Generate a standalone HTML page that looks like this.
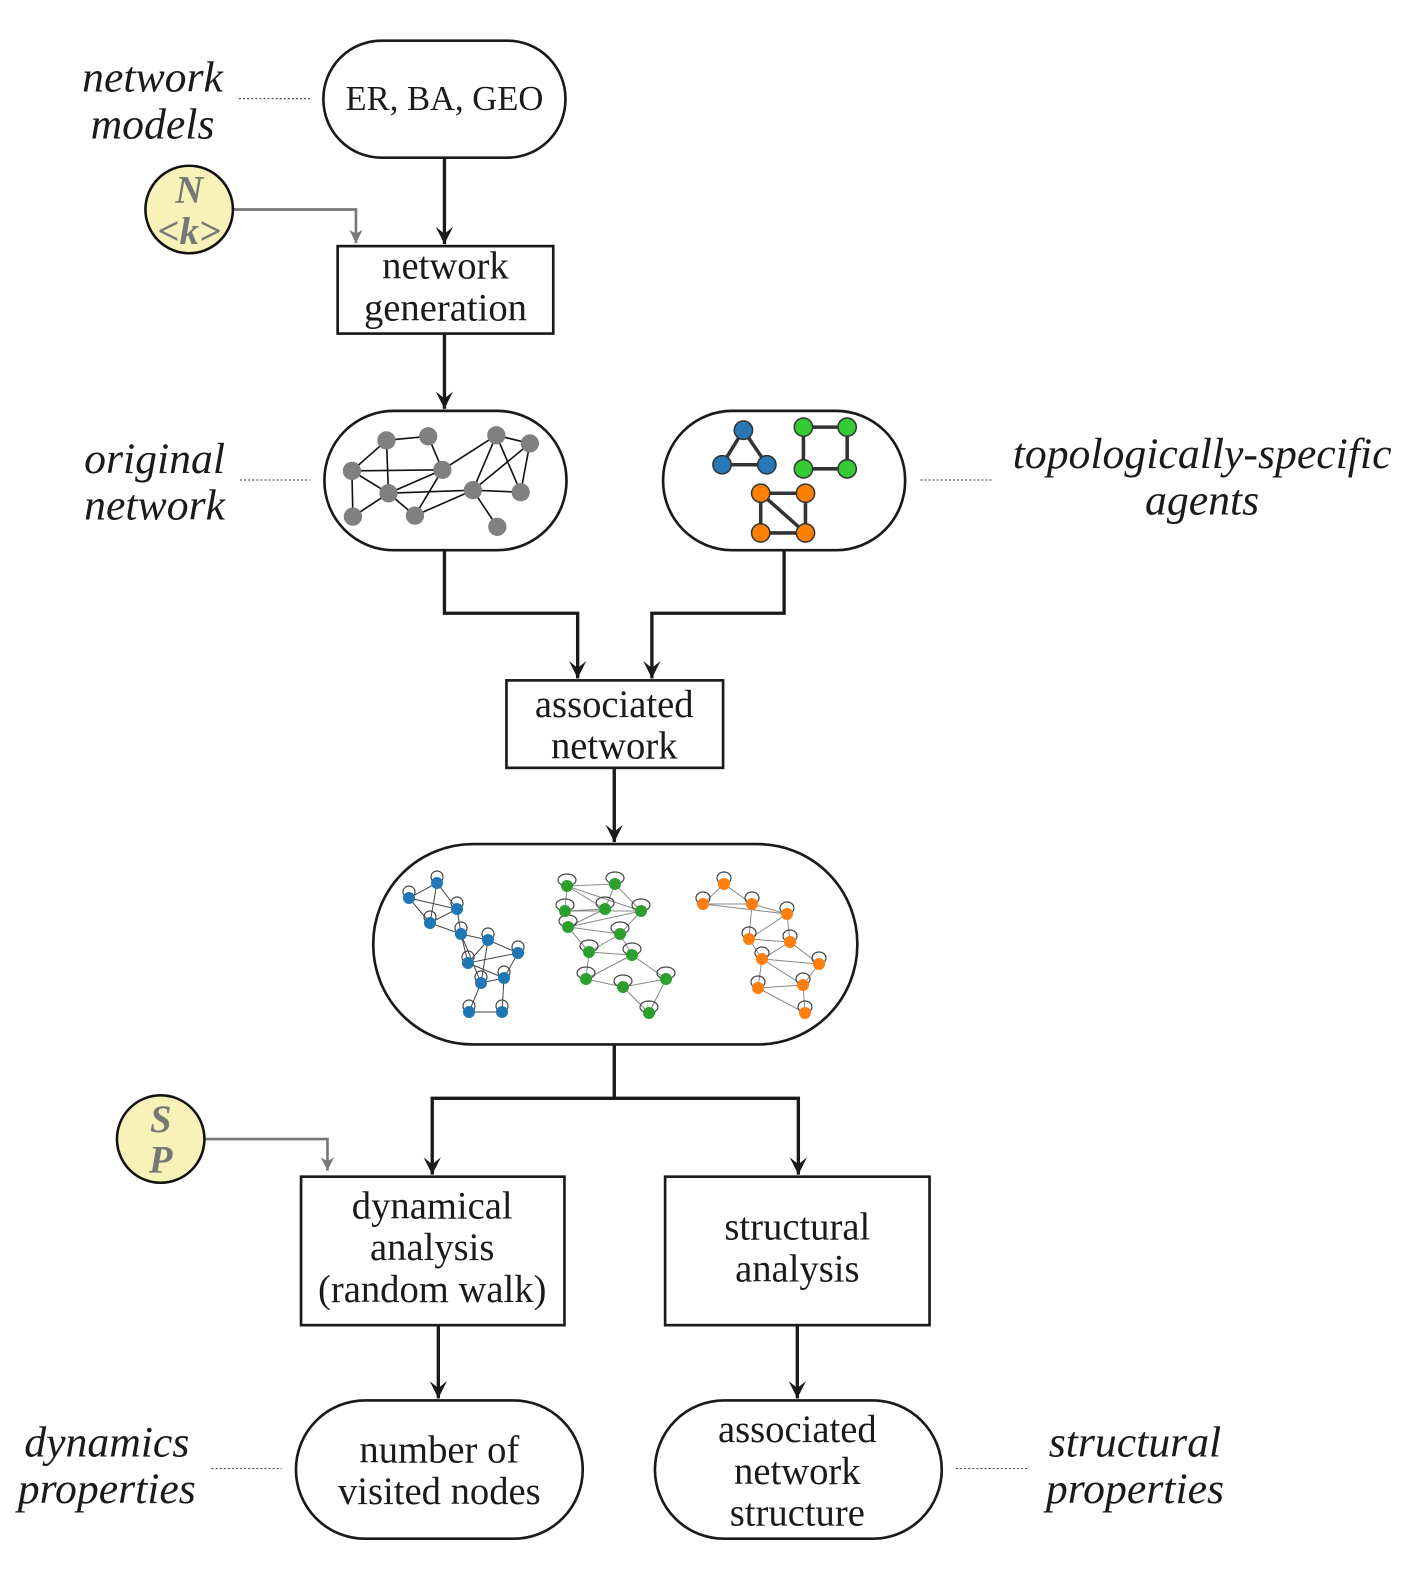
<!DOCTYPE html>
<html><head><meta charset="utf-8"><style>
html,body{margin:0;padding:0;background:#fff}
svg{display:block}
text{font-family:"Liberation Serif",serif;fill:#1a1a1a}
.lab{font-style:italic;font-size:43px}
.bx{font-size:38px}
</style></head><body>
<svg width="1412" height="1594" viewBox="0 0 1412 1594" xmlns="http://www.w3.org/2000/svg">
<defs>
<marker id="bh" viewBox="0 0 10 10" refX="10" refY="5" markerWidth="17" markerHeight="32" markerUnits="userSpaceOnUse" orient="auto"><path d="M0,0 L10,5 L0,10 L4,5 z" fill="#1a1a1a"/></marker>
<marker id="gh" viewBox="0 0 10 10" refX="10" refY="5" markerWidth="13" markerHeight="19" markerUnits="userSpaceOnUse" orient="auto"><path d="M0,0 L10,5 L0,10 L3,5 z" fill="#777"/></marker>
</defs>
<g transform="scale(1.017)">
<g fill="none" stroke="#1a1a1a" stroke-width="2.6">
<rect x="318" y="40" width="238" height="115" rx="57"/>
<rect x="332" y="242" width="212" height="86"/>
<rect x="319" y="404" width="238" height="137" rx="68"/>
<rect x="652" y="404" width="238" height="137" rx="68"/>
<rect x="498" y="669" width="213" height="86"/>
<rect x="367" y="830" width="476" height="197" rx="98"/>
<rect x="296" y="1157" width="259" height="146"/>
<rect x="654" y="1157" width="260" height="146"/>
<rect x="291" y="1377" width="282" height="136" rx="68"/>
<rect x="644" y="1377" width="282" height="136" rx="68"/>
</g>
<g fill="none" stroke="#1a1a1a" stroke-width="3.3">
<path d="M437 155 V240" marker-end="url(#bh)"/>
<path d="M437 328 V402" marker-end="url(#bh)"/>
<path d="M437 541 V603 H568 V667" marker-end="url(#bh)"/>
<path d="M771 541 V603 H641 V667" marker-end="url(#bh)"/>
<path d="M604 755 V828" marker-end="url(#bh)"/>
<path d="M604 1027 V1080 H425 V1155" marker-end="url(#bh)"/>
<path d="M604 1080 H785 V1155" marker-end="url(#bh)"/>
<path d="M431 1303 V1375" marker-end="url(#bh)"/>
<path d="M784 1303 V1375" marker-end="url(#bh)"/>
</g>
<g fill="none" stroke="#777" stroke-width="2.6">
<path d="M229 206 H350 V239" marker-end="url(#gh)"/>
<path d="M201 1120 H322 V1151" marker-end="url(#gh)"/>
</g>
<g stroke="#555" stroke-width="1.2" stroke-dasharray="2,2">
<line x1="235" y1="97" x2="305" y2="97"/><line x1="236" y1="472" x2="305" y2="472"/>
<line x1="905" y1="472" x2="975" y2="472"/><line x1="208" y1="1444" x2="277" y2="1444"/>
<line x1="940" y1="1444" x2="1010" y2="1444"/>
</g>
<circle cx="186" cy="206" r="43" fill="#f8f1b8" stroke="#111" stroke-width="2.5"/>
<circle cx="158" cy="1120" r="43" fill="#f8f1b8" stroke="#111" stroke-width="2.5"/>
<g font-style="italic" font-weight="bold" font-size="38" text-anchor="middle">
<text x="186" y="199" style="fill:#777">N</text><text x="186" y="240" style="fill:#777">&lt;k&gt;</text>
<text x="158" y="1113" style="fill:#777">S</text><text x="158" y="1153" style="fill:#777">P</text>
</g>
<g class="bx" text-anchor="middle">
<text x="437" y="108" font-size="34">ER, BA, GEO</text>
<text x="438" y="274">network</text><text x="438" y="315">generation</text>
<text x="604" y="705">associated</text><text x="604" y="746">network</text>
<text x="425" y="1198">dynamical</text><text x="425" y="1239">analysis</text><text x="425" y="1280">(random walk)</text>
<text x="784" y="1219">structural</text><text x="784" y="1260">analysis</text>
<text x="432" y="1438">number of</text><text x="432" y="1479">visited nodes</text>
<text x="784" y="1418">associated</text><text x="784" y="1459">network</text><text x="784" y="1500">structure</text>
</g>
<g class="lab" text-anchor="middle">
<text x="150" y="90">network</text><text x="150" y="136">models</text>
<text x="152" y="465">original</text><text x="152" y="511">network</text>
<text x="1182" y="460">topologically-specific</text><text x="1182" y="506">agents</text>
<text x="105" y="1432">dynamics</text><text x="105" y="1478">properties</text>
<text x="1116" y="1432">structural</text><text x="1116" y="1478">properties</text>
</g>
<g stroke="#111" stroke-width="1.6">
<path d="M380 433L421 429M380 433L346 463M380 433L382 485M421 429L435 462M488 428L435 462M488 428L465 482M488 428L512 484M521 436L465 482M521 436L512 484M346 463L435 462M346 463L382 485M346 463L347 508M382 485L435 462M382 485L465 482M382 485L408 507M382 485L347 508M408 507L435 462M408 507L465 482M465 482L512 484M465 482L489 518M488 428L521 436"/>
</g>
<g fill="#808080">
<circle cx="380" cy="433" r="9"/><circle cx="421" cy="429" r="9"/><circle cx="488" cy="428" r="9"/><circle cx="521" cy="436" r="9"/><circle cx="346" cy="463" r="9"/><circle cx="435" cy="462" r="9"/><circle cx="382" cy="485" r="9"/><circle cx="465" cy="482" r="9"/><circle cx="512" cy="484" r="9"/><circle cx="347" cy="508" r="9"/><circle cx="408" cy="507" r="9"/><circle cx="489" cy="518" r="9"/>
</g>
<g stroke="#333" stroke-width="3.5" fill="none">
<path d="M731 423L710 457L754 457Z"/><path d="M790 420H833V461H790Z"/><path d="M748 485H792V524H748ZM748 485L792 524"/>
</g>
<g stroke="#333" stroke-width="1.5">
<circle cx="731" cy="423" r="9" fill="#2878b8"/><circle cx="710" cy="457" r="9" fill="#2878b8"/><circle cx="754" cy="457" r="9" fill="#2878b8"/>
<circle cx="790" cy="420" r="9" fill="#33cc33"/><circle cx="833" cy="420" r="9" fill="#33cc33"/><circle cx="790" cy="461" r="9" fill="#33cc33"/><circle cx="833" cy="461" r="9" fill="#33cc33"/>
<circle cx="748" cy="485" r="9" fill="#ff8000"/><circle cx="792" cy="485" r="9" fill="#ff8000"/><circle cx="748" cy="524" r="9" fill="#ff8000"/><circle cx="792" cy="524" r="9" fill="#ff8000"/>
</g>
</g>
<g stroke="#888" stroke-width="1" fill="none">
<path d="M437 883L409 898L457 909L430 923L437 883L457 909L461 934L488 940L518 953L468 963L488 940L481 983L504 978L468 963L461 934L481 983L469 1012L502 1012L504 978L518 953M430 923L461 934M409 898L430 923M468 963L504 978M437 883L430 923" stroke="#444"/>
<path d="M567 886L615 884L605 909L565 911L567 886L641 911L615 884M565 911L641 911L620 934L568 927L605 909M568 927L589 952L620 934L632 955L589 952L586 979L623 987L666 979L632 955M586 979L632 955M623 987L649 1013L666 979M567 886L605 909M568 927L641 911"/>
<path d="M724 884L752 904L787 914L749 939L752 904L703 904L724 884M703 904L787 914M749 939L790 942L787 914M749 939L762 959L790 942L819 964L762 959L758 988L803 985L819 964M758 988L762 959M803 985L805 1013L758 988M803 985L762 959"/>
</g>
<g fill="none" stroke="#444" stroke-width="1.2">
<ellipse cx="437" cy="877" rx="6" ry="6"/><ellipse cx="409" cy="892" rx="6" ry="6"/><ellipse cx="457" cy="903" rx="6" ry="6"/><ellipse cx="430" cy="917" rx="6" ry="6"/><ellipse cx="461" cy="928" rx="6" ry="6"/><ellipse cx="488" cy="934" rx="6" ry="6"/><ellipse cx="518" cy="947" rx="6" ry="6"/><ellipse cx="468" cy="957" rx="6" ry="6"/><ellipse cx="481" cy="977" rx="6" ry="6"/><ellipse cx="504" cy="972" rx="6" ry="6"/><ellipse cx="469" cy="1006" rx="6" ry="6"/><ellipse cx="502" cy="1006" rx="6" ry="6"/>
<ellipse cx="567" cy="880" rx="9" ry="6"/><ellipse cx="615" cy="878" rx="9" ry="6"/><ellipse cx="565" cy="905" rx="9" ry="6"/><ellipse cx="605" cy="903" rx="9" ry="6"/><ellipse cx="641" cy="905" rx="9" ry="6"/><ellipse cx="568" cy="921" rx="9" ry="6"/><ellipse cx="620" cy="928" rx="9" ry="6"/><ellipse cx="589" cy="946" rx="9" ry="6"/><ellipse cx="632" cy="949" rx="9" ry="6"/><ellipse cx="586" cy="973" rx="9" ry="6"/><ellipse cx="623" cy="981" rx="9" ry="6"/><ellipse cx="666" cy="973" rx="9" ry="6"/><ellipse cx="649" cy="1007" rx="9" ry="6"/>
<ellipse cx="724" cy="878" rx="7" ry="6"/><ellipse cx="752" cy="898" rx="7" ry="6"/><ellipse cx="787" cy="908" rx="7" ry="6"/><ellipse cx="703" cy="898" rx="7" ry="6"/><ellipse cx="749" cy="933" rx="7" ry="6"/><ellipse cx="790" cy="936" rx="7" ry="6"/><ellipse cx="762" cy="953" rx="7" ry="6"/><ellipse cx="819" cy="958" rx="7" ry="6"/><ellipse cx="758" cy="982" rx="7" ry="6"/><ellipse cx="803" cy="979" rx="7" ry="6"/><ellipse cx="805" cy="1007" rx="7" ry="6"/>
</g>
<g fill="#1f77b4">
<circle cx="437" cy="883" r="6"/><circle cx="409" cy="898" r="6"/><circle cx="457" cy="909" r="6"/><circle cx="430" cy="923" r="6"/><circle cx="461" cy="934" r="6"/><circle cx="488" cy="940" r="6"/><circle cx="518" cy="953" r="6"/><circle cx="468" cy="963" r="6"/><circle cx="481" cy="983" r="6"/><circle cx="504" cy="978" r="6"/><circle cx="469" cy="1012" r="6"/><circle cx="502" cy="1012" r="6"/>
</g>
<g fill="#2ca02c">
<circle cx="567" cy="886" r="6"/><circle cx="615" cy="884" r="6"/><circle cx="565" cy="911" r="6"/><circle cx="605" cy="909" r="6"/><circle cx="641" cy="911" r="6"/><circle cx="568" cy="927" r="6"/><circle cx="620" cy="934" r="6"/><circle cx="589" cy="952" r="6"/><circle cx="632" cy="955" r="6"/><circle cx="586" cy="979" r="6"/><circle cx="623" cy="987" r="6"/><circle cx="666" cy="979" r="6"/><circle cx="649" cy="1013" r="6"/>
</g>
<g fill="#ff7f0e">
<circle cx="724" cy="884" r="6"/><circle cx="752" cy="904" r="6"/><circle cx="787" cy="914" r="6"/><circle cx="703" cy="904" r="6"/><circle cx="749" cy="939" r="6"/><circle cx="790" cy="942" r="6"/><circle cx="762" cy="959" r="6"/><circle cx="819" cy="964" r="6"/><circle cx="758" cy="988" r="6"/><circle cx="803" cy="985" r="6"/><circle cx="805" cy="1013" r="6"/>
</g>
</svg>
</body></html>
